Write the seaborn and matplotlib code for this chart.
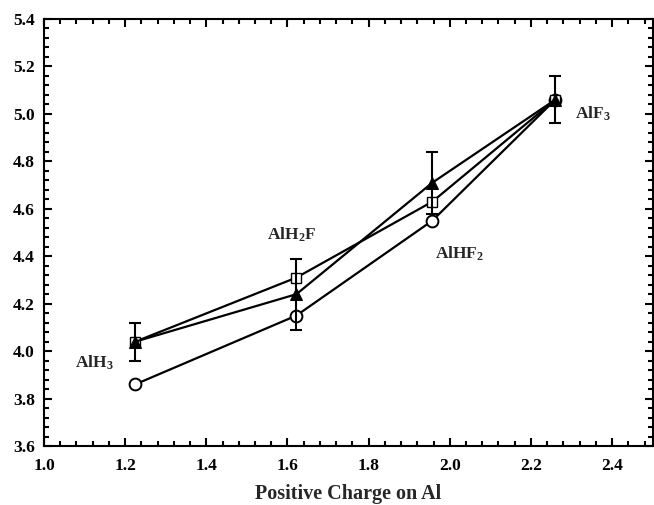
import numpy as np
import matplotlib
matplotlib.use("Agg")
import matplotlib.pyplot as plt
from matplotlib.ticker import MultipleLocator, FormatStrFormatter
import seaborn as sns
import pandas as pd

# data
charge = [1.225, 1.622, 1.957, 2.260]
circle_vals = [3.86, 4.15, 4.55, 5.06]
square_vals = [4.04, 4.31, 4.63, 5.06]
triangle_vals = [4.04, 4.24, 4.71, 5.06]
triangle_err = [0.08, 0.15, 0.13, 0.10]
species = ["AlH$_3$", "AlH$_2$F", "AlHF$_2$", "AlF$_3$"]
label_pos = [(1.076, 3.95), (1.55, 4.49), (1.964, 4.41), (2.308, 5.0)]

sns.set_theme(style="ticks")
plt.rcParams['font.family'] = ['Liberation Serif', 'DejaVu Serif']
plt.rcParams['font.weight'] = 'bold'
plt.rcParams['mathtext.fontset'] = 'custom'
plt.rcParams['mathtext.rm'] = 'Liberation Serif:bold'
plt.rcParams['mathtext.it'] = 'Liberation Serif:bold'
plt.rcParams['mathtext.bf'] = 'Liberation Serif:bold'

df = pd.DataFrame({"charge": charge, "circle": circle_vals,
                   "square": square_vals, "triangle": triangle_vals})

fig = plt.figure(figsize=(6.54, 5.05), dpi=100)
ax = fig.add_axes([0.0673, 0.1168, 0.9307, 0.8456])

lw = 1.6
sns.lineplot(data=df, x="charge", y="circle", ax=ax, color="black", lw=lw,
             marker="o", markersize=8.5, markerfacecolor="white",
             markeredgecolor="black", markeredgewidth=1.4, zorder=3)
sns.lineplot(data=df, x="charge", y="square", ax=ax, color="black", lw=lw,
             marker="s", markersize=7, markerfacecolor="white",
             markeredgecolor="black", markeredgewidth=1.0, zorder=3)
sns.lineplot(data=df, x="charge", y="triangle", ax=ax, color="black", lw=lw,
             marker="^", markersize=8, markerfacecolor="black",
             markeredgecolor="black", zorder=4)
ax.errorbar(charge, triangle_vals, yerr=triangle_err, fmt="none",
            ecolor="black", elinewidth=1.5, capsize=4, capthick=1.5, zorder=5)

for txt, (tx, ty) in zip(species, label_pos):
    ax.text(tx, ty, txt, fontsize=12.5, fontweight="bold", ha="left", va="center")

ax.set_xlim(1.0, 2.5)
ax.set_ylim(3.6, 5.4)
ax.xaxis.set_major_locator(MultipleLocator(0.2))
ax.xaxis.set_minor_locator(MultipleLocator(0.04))
ax.yaxis.set_major_locator(MultipleLocator(0.2))
ax.yaxis.set_minor_locator(MultipleLocator(0.04))
ax.xaxis.set_major_formatter(FormatStrFormatter("%.1f"))
ax.yaxis.set_major_formatter(FormatStrFormatter("%.1f"))
ax.tick_params(which="both", direction="in", top=True, right=True,
               labelsize=12.5, width=1.5, color="black", labelcolor="black")
ax.tick_params(which="major", length=6)
ax.tick_params(which="minor", length=3.5)
ax.tick_params(axis="x", which="major", pad=8.5)
ax.tick_params(axis="y", which="major", pad=6.5)
for lab in ax.get_xticklabels() + ax.get_yticklabels():
    lab.set_fontweight("bold")
for sp in ax.spines.values():
    sp.set_linewidth(1.5)
    sp.set_color("black")

ax.set_xlabel("Positive Charge on Al", fontsize=14.5, fontweight="bold", labelpad=7)
ax.set_ylabel("")

fig.savefig("out.png", dpi=100)
